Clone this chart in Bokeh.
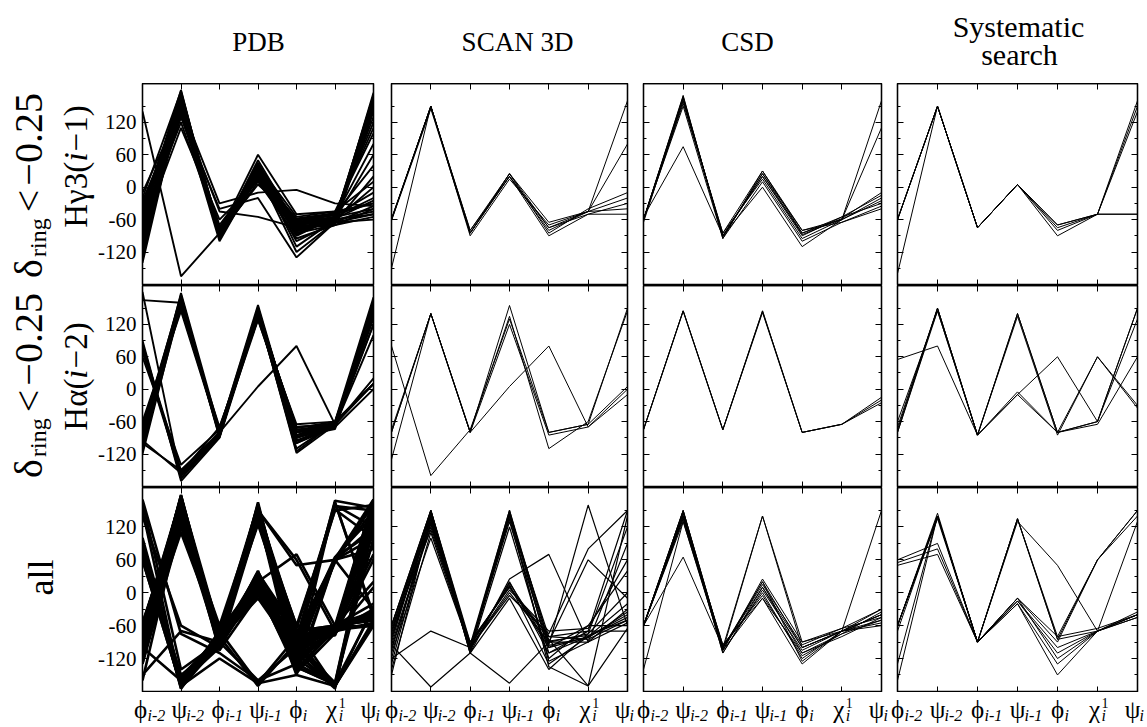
import numpy as np
from bokeh.plotting import figure
from bokeh.models import Range1d, FixedTicker, LinearAxis
from bokeh.layouts import row, column
from bokeh.embed import file_html
from bokeh.resources import INLINE
from bokeh.core.properties import value

# ---------------- data ----------------
ANGLE_SYMBOLS = ["ϕ", "ψ", "ϕ", "ψ", "ϕ", "χ", "ψ"]
ANGLE_SUBS = ["i-2", "i-2", "i-1", "i-1", "i", "i", "i"]
ANGLE_SUPS = ["", "", "", "", "", "1", ""]
SOURCES = ["PDB", "SCAN 3D", "CSD", "Systematic", "search"]
Y_TICKS = [-120, -60, 0, 60, 120]
Y_TICK_LABELS = ["-120", "-60", "0", "60", "120"]
Y_MINOR = [-150, -90, -30, 30, 90, 150]

# row 1: delta_ring < -0.25, H gamma3 (i-1)
PDB_HG3 = [
    [-40, 165, -80, 25, -65, -55, 150], [-60, 170, -85, 30, -70, -60, 160],
    [-80, 175, -90, 35, -75, -60, 170], [-100, 160, -95, 20, -80, -65, 175],
    [-120, 150, -85, 15, -85, -70, 140], [-30, 155, -75, 30, -60, -50, 120],
    [-50, 145, -80, 40, -55, -45, 100], [-70, 140, -90, 10, -90, -55, 80],
    [-90, 130, -70, 25, -70, -60, 60], [-110, 165, -85, 35, -65, -50, 40],
    [-20, 178, -95, 45, -75, -65, 20], [-130, 170, -90, 20, -85, -60, 0],
    [-60, 120, -80, 30, -80, -55, -20], [-75, 150, -85, 5, -60, -50, -30],
    [-85, 160, -75, 15, -95, -70, -40], [-45, 168, -90, 50, -70, -60, -50],
    [-95, 140, -100, 25, -100, -65, -35], [-65, 175, -80, 35, -110, -60, -45],
    [-55, 158, -88, 28, -120, -65, -60], [-105, 172, -92, 38, -68, -55, 130],
    [-35, 160, -78, 22, -58, -48, 110], [-115, 150, -86, 18, -78, -62, 165],
    [-25, 135, -82, 32, -88, -58, -25], [-50, 180, -94, 42, -72, -66, 155],
    [-80, 110, -60, 12, -62, -52, -10], [-140, 165, -88, 26, -82, -60, 145],
    [-70, 155, -84, 60, -50, -45, 10], [-10, 145, -90, 24, -76, -70, -55],
    [140, -165, -85, 20, -70, -55, -40], [-90, 150, -30, -10, -5, -30, -35],
    [-70, 140, -45, -55, -75, -45, -30], [-60, 130, -40, -20, -130, -65, -50],
    [-45, 162, -86, 33, -66, -58, 168], [-88, 171, -91, 29, -79, -63, 150],
]
SCAN_HG3 = [
    [-60, 150, -85, 25, -75, -45, 160], [-60, 150, -85, 20, -80, -45, 80],
    [-60, 148, -80, 25, -85, -40, -10], [-60, 150, -85, 20, -90, -50, -30],
    [-150, 150, -90, 15, -70, -45, -40], [-62, 145, -85, 25, -65, -45, -20],
    [-58, 150, -80, 20, -75, -50, -50],
]
CSD_HG3 = [
    [-60, 165, -90, 25, -80, -60, 160], [-60, 170, -95, 30, -85, -60, 110],
    [-60, 160, -90, 20, -90, -55, -15], [-60, 155, -85, 15, -95, -60, -25],
    [-60, 150, -95, 10, -100, -65, -35], [-60, 165, -90, 0, -110, -60, -20],
    [-55, 75, -90, 20, -85, -55, -30], [-65, 160, -85, 30, -80, -65, -40],
    [-60, 168, -92, 25, -88, -58, -10],
]
SYS_HG3 = [
    [-60, 150, -75, 5, -70, -50, 150], [-160, 150, -75, 5, -75, -50, 140],
    [-60, 150, -75, 5, -90, -50, -50], [-60, 150, -75, 5, -80, -50, -50],
    [-60, 150, -75, 5, -70, -50, 160],
]

# row 2: delta_ring < -0.25, H alpha (i-2)
PDB_HA2 = [
    [-70, 170, -80, 140, -70, -65, 160], [-80, 175, -85, 145, -75, -70, 165],
    [-90, 160, -75, 150, -85, -60, 150], [-100, 165, -90, 135, -90, -65, 140],
    [-110, 155, -80, 145, -100, -70, 120], [-60, 150, -70, 130, -65, -60, 170],
    [-75, 168, -88, 152, -95, -68, 100], [-85, 158, -78, 138, -110, -62, 130],
    [-95, 172, -84, 148, -80, -72, 155], [-120, 162, -86, 142, -118, -66, 20],
    [-65, 145, -82, 128, -72, -60, 10], [-105, 178, -76, 156, -88, -74, 145],
    [80, -150, -80, 140, -70, -65, 150], [70, -160, -85, 145, -80, -70, 165],
    [60, -140, -75, 135, -90, -60, 10], [90, -170, -90, 150, -100, -65, 140],
    [75, -155, -70, 130, -85, -70, 160], [85, -165, -88, 142, -115, -62, 155],
    [-95, -155, -80, 140, -75, -65, 150], [-100, -150, -85, 135, -85, -70, 0],
    [165, 160, -80, 140, -80, -65, 150], [180, -165, -80, 145, -90, -70, 160],
    [-75, 150, -80, 5, 80, -65, 10], [-88, 166, -82, 146, -78, -64, 120],
    [78, -158, -84, 138, -96, -68, 135],
]
SCAN_HA2 = [
    [-80, 140, -80, 155, -80, -65, 150], [-75, 140, -78, 135, -110, -60, 145],
    [-130, 140, -80, 120, -85, -70, 0], [80, -160, -75, 130, -80, -65, 5],
    [-80, 140, -80, 5, 80, -70, -10],
]
CSD_HA2 = [
    [-75, 145, -75, 145, -80, -65, -15], [-75, 145, -75, 145, -80, -65, -25],
    [-75, 145, -75, 142, -80, -65, -20],
]
SYS_HA2 = [
    [55, 80, -85, 140, -80, -60, 150], [-70, 150, -85, 140, -80, 60, -30],
    [-80, 145, -85, -10, 60, -60, 130], [-75, 150, -85, -10, -80, -65, 60],
    [-60, 145, -85, 135, -85, 60, -35], [-80, 150, -85, -5, -80, -60, 150],
]

# row 3: all
PDB_ALL = [
    [-60, 170, -80, 150, -70, -65, 160], [-70, 160, -90, 140, -80, -70, 150],
    [-80, 175, -70, 160, -90, -60, 170], [-90, 150, -100, 130, -100, -170, 140],
    [-100, 165, -85, 145, -120, -65, 120], [-110, 140, -75, 155, -140, 60, 100],
    [-120, 155, -95, 135, -60, -75, 60], [-130, 120, -80, 125, -85, 165, -40],
    [-65, 145, -105, 165, -110, -170, -50], [-75, 130, -65, 140, -130, -60, 20],
    [-85, 178, -88, 150, -75, 60, 150], [-95, 110, -78, 158, -95, -68, -60],
    [-60, 150, -90, 20, -80, -65, -40], [-70, 140, -80, 10, -90, -70, -30],
    [-80, 165, -100, 30, -100, -60, -50], [-90, 155, -70, -10, -110, -175, 140],
    [-100, 130, -85, 0, -120, -65, 160], [-120, 170, -95, 40, -150, 60, 120],
    [-65, 120, -75, 25, -70, -60, -20], [-110, 160, -105, -5, -85, -170, -55],
    [-75, 175, -90, 15, -60, -75, 10], [-85, 145, -80, 35, -130, 165, -45],
    [60, -170, -80, 150, -80, -65, 150], [70, -160, -90, 140, -100, 60, 160],
    [80, -175, -70, 10, -90, -70, -40], [90, -165, -100, 20, -120, -170, 120],
    [100, -155, -85, -10, -70, -60, -50], [75, -172, -75, 155, -140, -65, 170],
    [65, -150, -95, 30, -110, 60, -30], [150, -170, -70, -165, -80, -60, -40],
    [165, -140, -90, -160, -100, 160, 120], [140, -60, -100, 150, 60, -70, -55],
    [-150, -70, -90, 20, 70, -60, -50], [-90, 160, -80, -170, -90, -170, 130],
    [-160, 140, -60, 150, 50, 60, 80], [170, -75, -110, -160, -130, -165, -30],
    [-100, -160, -75, 140, -60, 150, 160], [60, -170, -120, -165, -150, -170, -60],
    [-105, 168, -92, 145, -105, 55, 165], [-115, 135, -86, 5, -115, -72, -35],
    [-55, 158, -98, 148, -88, 65, 140], [-125, 148, -84, 28, -135, -168, 100],
    [-68, 162, -82, 144, -96, -62, 145], [-78, 152, -94, 136, -116, -74, 168],
    [-88, 172, -86, 162, -126, -66, 130], [-98, 142, -72, 128, -76, -78, 110],
    [-108, 176, -96, 152, -66, 158, 150], [-58, 136, -88, 18, -106, -64, -45],
    [-72, 166, -76, 26, -124, -72, 135], [-92, 126, -98, 8, -142, -66, 165],
    [-118, 158, -84, -2, -98, 168, 155], [-82, 148, -92, 36, -68, -172, -25],
    [68, -166, -86, 146, -118, -70, 125], [88, -158, -78, 22, -104, -62, -60],
    [95, -174, -92, 156, -84, 152, 100], [72, -152, -82, 4, -136, -166, 145],
    [-102, 138, -88, 142, -92, 62, 170], [-62, 174, -100, 32, -112, -58, -35],
    [-66, 156, -90, 148, -102, -68, 158], [-84, 168, -80, 132, -88, -76, 142],
    [-96, 146, -92, 14, -132, -60, -48], [-112, 164, -70, 24, -78, -70, 126],
    [-74, 138, -98, 154, -120, 64, 112], [-90, 178, -86, 2, -94, -164, 148],
    [82, -168, -88, 136, -108, -72, 162], [62, -162, -96, 16, -126, -66, -42],
    [-56, 150, -84, 140, -146, -74, 90], [-128, 132, -90, 38, -84, -68, 70],
]
SCAN_ALL = [
    [-60, 140, -100, 140, -80, -70, 150], [-70, 150, -95, 150, -90, -75, 120],
    [-80, 130, -105, 130, -100, -80, -40], [-90, 145, -110, 120, -120, -60, -60],
    [-100, 120, -90, 10, -80, -85, -50], [-110, 100, -100, 0, -90, -90, -30],
    [-120, 150, -105, 20, -110, -70, -70], [-130, 135, -95, 15, -130, -80, -20],
    [-150, 140, -110, -10, -140, -75, 0], [-140, 110, -100, 5, -70, -65, 60],
    [-60, 150, -90, 10, -85, -170, 140], [-75, 145, -105, 140, -95, 160, -60],
    [-65, 130, -100, -5, -75, 80, 150], [-120, -70, -100, 150, -110, -80, -45],
    [-95, -172, -110, -165, -90, 60, -10], [-85, 140, -110, 25, 70, -90, -55],
    [-95, 125, -100, 135, -125, -90, 90], [-60, 150, -105, 145, -135, -170, -65],
    [-70, 115, -95, 12, -100, -60, 40], [-80, 138, -102, 146, -88, -78, -50],
    [-105, 128, -98, 18, -96, -82, -35],
]
CSD_ALL = [
    [-60, 150, -100, 140, -90, -70, 150], [-60, 145, -105, 20, -100, -70, -40],
    [-60, 140, -110, 10, -110, -75, -50], [-60, 135, -100, 0, -120, -70, -30],
    [-60, 150, -105, -10, -130, -70, -55], [-60, 130, -100, 15, -95, -65, -45],
    [-60, 145, -110, 5, -105, -70, -60], [-60, 140, -95, -5, -115, -75, -35],
    [-60, 150, -100, 20, -125, -70, -40], [-60, 65, -100, 10, -100, -70, -50],
    [-140, 130, -105, 140, -100, -70, -40], [-60, 140, -105, 25, -90, -65, -30],
    [-60, 135, -95, -10, -110, -80, -45],
]
SYS_ALL = [
    [-60, 140, -90, 135, -80, 60, 150], [50, 70, -90, 135, -85, 60, 150],
    [60, 90, -90, -15, -100, -70, -40], [-160, 140, -90, -10, -120, -70, -45],
    [-60, 145, -90, -20, -150, -70, -40], [-130, 140, -90, 130, 50, -70, -40],
    [-60, 140, -90, -10, -90, 60, 140], [-60, 135, -90, -15, -110, -70, -35],
    [-70, 140, -90, -20, -130, -70, -45], [55, 80, -90, 135, -85, -70, 130],
    [-60, 140, -90, -10, -80, -65, -40],
]

PANELS = [
    [PDB_HG3, SCAN_HG3, CSD_HG3, SYS_HG3],
    [PDB_HA2, SCAN_HA2, CSD_HA2, SYS_HA2],
    [PDB_ALL, SCAN_ALL, CSD_ALL, SYS_ALL],
]

# ---------------- layout / style ----------------
FONT = "Liberation Serif"
LABEL_W = 95
COLS = [(45, 233, 9), (9, 236, 8), (8, 238, 8), (8, 240, 10)]  # left border, frame, right border
HEADER_H = 83
ROW_H = [202, 202, 205]
STRIP_H = 33
Y_LO, Y_HI = -182, 192
LINE_W = [[1.9, 1.0, 1.0, 1.0], [1.9, 1.0, 1.0, 1.0], [2.6, 1.2, 1.0, 1.0]]
XS = list(range(len(ANGLE_SYMBOLS)))
SYM_DX = [0, 0, 0, 0, 0, -3, -5]
SUB_DX = [7, 7, 7, 7, 7, 4, 2]
TOTAL_W = LABEL_W + sum(sum(c) for c in COLS)

CW = {"δ": 0.5, "r": 0.333, "i": 0.278, "n": 0.5, "g": 0.5, "<": 0.564, "−": 0.564,
      "0": 0.5, ".": 0.25, "2": 0.5, "5": 0.5, "H": 0.722, "γ": 0.45, "3": 0.5,
      "(": 0.333, ")": 0.333, "1": 0.5, "α": 0.52, "a": 0.444, "l": 0.278}


def seg_w(s, size):
    return sum(CW.get(ch, 0.5) for ch in s) * size


def text_fig(w, h, xr, yr):
    f = figure(width=w, height=h, x_range=Range1d(*xr), y_range=Range1d(*yr),
               output_backend="svg", toolbar_location=None, min_border=0,
               x_axis_location=None, y_axis_location=None)
    f.outline_line_color = None
    f.grid.visible = False
    return f


def make_axis(ticks, minor, labels=None):
    ax = LinearAxis(ticker=FixedTicker(ticks=ticks, minor_ticks=minor))
    ax.axis_line_color = "black"
    ax.axis_line_width = 1.3
    ax.major_tick_line_color = "black"
    ax.major_tick_in = 6
    ax.major_tick_out = 0
    ax.minor_tick_line_color = "black"
    ax.minor_tick_in = 3
    ax.minor_tick_out = 0
    if labels is not None:
        ax.major_label_overrides = dict(zip(ticks, labels))
        ax.major_label_text_font = FONT
        ax.major_label_text_font_size = "21px"
        ax.major_label_text_color = "black"
        ax.major_label_standoff = 6
    else:
        ax.major_label_overrides = {t: "" for t in ticks}
        ax.major_label_text_font_size = "0px"
        ax.major_label_standoff = 0
    return ax


def panel(lines, r, c):
    L, F, R = COLS[c]
    p = figure(width=L + F + R, height=ROW_H[r], x_range=Range1d(XS[0], XS[-1]),
               y_range=Range1d(Y_LO, Y_HI), output_backend="svg", toolbar_location=None,
               min_border_left=L, min_border_right=R, min_border_top=0, min_border_bottom=0,
               x_axis_location=None, y_axis_location=None)
    p.grid.visible = False
    p.outline_line_color = "black"
    p.outline_line_width = 1.3
    p.add_layout(make_axis(XS, []), "below")
    p.add_layout(make_axis(XS, []), "above")
    p.add_layout(make_axis(Y_TICKS, Y_MINOR, Y_TICK_LABELS if c == 0 else None), "left")
    p.add_layout(make_axis(Y_TICKS, Y_MINOR), "right")
    p.multi_line(xs=[XS] * len(lines), ys=lines, line_color="black", line_width=LINE_W[r][c])
    return p


def strip(c):
    L, F, R = COLS[c]
    span = XS[-1] - XS[0]
    top = HEADER_H + sum(ROW_H)
    f = text_fig(L + F + R, STRIP_H, (XS[0] - L * span / F, XS[-1] + R * span / F),
                 (-(top + STRIP_H), -top))
    f.text(x=XS, y=[-709] * len(XS), text=ANGLE_SYMBOLS, text_align="center", x_offset=SYM_DX,
           text_baseline="alphabetic", text_font=value(FONT), text_font_size=value("25px"),
           text_color="black")
    f.text(x=XS, y=[-715] * len(XS), text=ANGLE_SUBS, text_align="left", x_offset=SUB_DX,
           text_baseline="alphabetic", text_font=value(FONT), text_font_size=value("16px"),
           text_font_style="italic", text_color="black")
    f.text(x=XS, y=[-702] * len(XS), text=ANGLE_SUPS, text_align="left", x_offset=SUB_DX,
           text_baseline="alphabetic", text_font=value(FONT), text_font_size=value("14px"),
           text_color="black")
    return f


# header (text anchors are the visual centre line of the words)
header = text_fig(TOTAL_W, HEADER_H, (0, TOTAL_W), (-HEADER_H, 0))
header.text(x=[258, 517, 747], y=[-41, -41, -41], text=SOURCES[:3],
            text_align="center", text_baseline="alphabetic", text_font=value(FONT),
            text_font_size=value("27px"), text_color="black")
header.text(x=[1018, 1019], y=[-26, -54], text=SOURCES[3:],
            text_align="center", text_baseline="alphabetic", text_font=value(FONT),
            text_font_size=value("30px"), text_color="black")

# row labels (rotated; anchor x is the glyph centre line)
label_top = HEADER_H
label_h = sum(ROW_H) + STRIP_H
labels = text_fig(LABEL_W, label_h, (0, LABEL_W), (-(label_top + label_h), -label_top))

LINE1 = [("δ", 0, 40, False, 1), ("ring", 9, 24, False, 6), ("<", 0, 40, False, 4),
         ("−0.25", 0, 40, False, 0)]
ROW_LABEL_SEGS = [
    [(28, 185, LINE1),
     (75, 166, [("Hγ3(", 0, 33, False, 0), ("i", 0, 33, True, 1), ("−1)", 0, 33, False, 0)])],
    [(28, 385, LINE1),
     (75, 376, [("Hα(", 0, 33, False, 0), ("i", 0, 33, True, 1), ("−2)", 0, 33, False, 0)])],
    [(40, 577, [("all", 0, 36, False, 0)])],
]
for rl in ROW_LABEL_SEGS:
    for xb, yc, segs in rl:
        total = sum(seg_w(t, s) + g for t, _, s, _, g in segs)
        y = yc + total / 2.0
        for t, dx, s, it, g in segs:
            labels.text(x=[xb + dx], y=[-y], text=[t], angle=np.pi / 2, text_align="left",
                        text_baseline="alphabetic", text_font=value(FONT),
                        text_font_size=value(f"{s}px"),
                        text_font_style="italic" if it else "normal", text_color="black")
            y -= seg_w(t, s) + g

rows = [row(*[panel(PANELS[r][c], r, c) for c in range(4)]) for r in range(3)]
rows.append(row(*[strip(c) for c in range(4)]))
grid = column(*rows)
layout = column(header, row(labels, grid))

open("out.html", "w").write(file_html(layout, INLINE))
